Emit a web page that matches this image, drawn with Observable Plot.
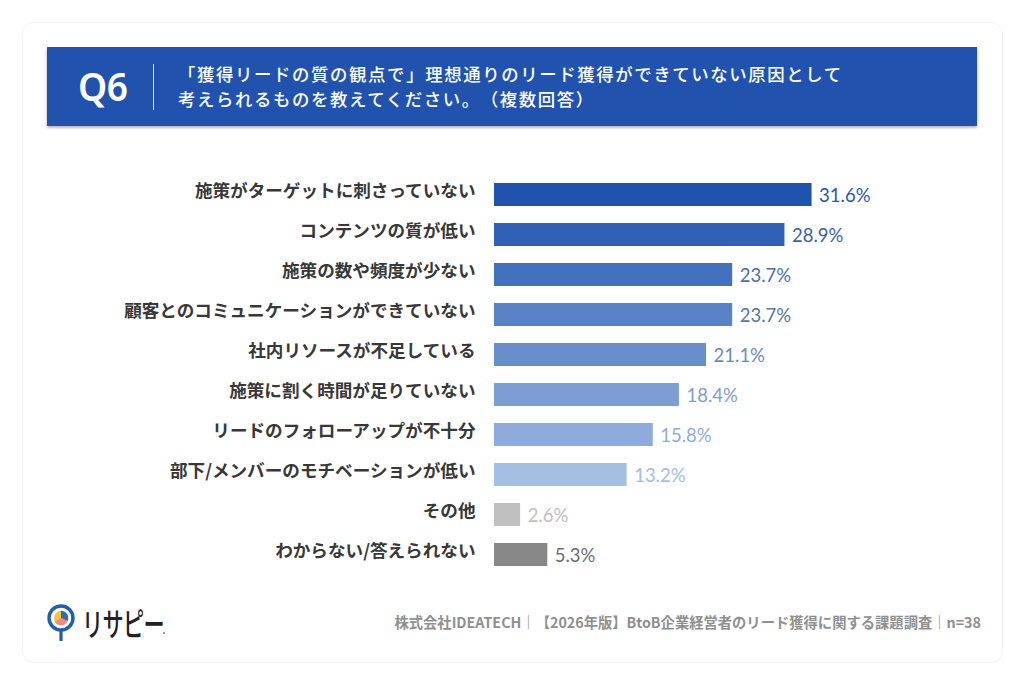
<!DOCTYPE html>
<html lang="ja"><head><meta charset="utf-8">
<script src="https://cdn.jsdelivr.net/npm/d3@7"></script>
<script src="https://cdn.jsdelivr.net/npm/@observablehq/plot@0.6"></script>
<style>
html,body{margin:0;padding:0;background:#fff;width:1024px;height:683px;overflow:hidden}
#page{position:relative;width:1024px;height:683px;font-family:"Noto Sans CJK JP",sans-serif;text-spacing-trim:space-all}
#card{position:absolute;left:22px;top:22px;width:979px;height:639px;border:1px solid #f3f3f3;border-radius:12px;box-sizing:content-box}
#head{position:absolute;left:47px;top:47px;width:930px;height:79px;background:#2153ae;box-shadow:0 1.5px 3px rgba(0,0,0,.35)}
#q{position:absolute;left:31px;top:14px;color:#fff;font:600 39px/50px "Noto Sans",sans-serif;letter-spacing:-.5px;transform:scaleX(.95);transform-origin:left center}
#bar{position:absolute;left:106px;top:17px;width:1px;height:46px;background:#dfe7f5}
#ttl{position:absolute;left:131px;top:15px;color:#fff;font:500 17.4px/24.5px "Noto Sans CJK JP",sans-serif;letter-spacing:1.62px;white-space:pre}
#chart{position:absolute;left:0;top:0}
#foot{position:absolute;right:43px;top:612px;color:#8f8f8f;font:700 14.3px/20px "Noto Sans CJK JP",sans-serif;white-space:pre}
#logo{position:absolute;left:46px;top:604px}
#logot{position:absolute;left:82px;top:601px;color:#222;font:500 32px/42px "Noto Sans CJK JP",sans-serif;letter-spacing:-1px;white-space:pre;transform:scaleX(.66);transform-origin:left center}
#dot{position:absolute;left:163px;top:632px;width:2px;height:2px;border-radius:50%;background:#777}
</style></head><body>
<div id="page">
<div id="card"></div>
<div id="head"><div id="q"></div><div id="bar"></div><div id="ttl"></div></div>
<div id="chart"></div>
<svg id="logo" width="30" height="38" viewBox="0 0 30 38">
<path d="M15 24V37" stroke="#1f5fae" stroke-width="3.2" fill="none"/>
<circle cx="15" cy="14" r="12" fill="#fff" stroke="#1f5fae" stroke-width="3.4"/>
<circle cx="15" cy="14" r="7.2" fill="#f4c542"/>
<path d="M15 14V6.8A7.2 7.2 0 0 1 21.6 17Z" fill="#2e6db5"/>
<path d="M15 14L21.6 17A7.2 7.2 0 0 1 8.8 17.7Z" fill="#ee8a80"/>
</svg>
<div id="logot"></div><div id="dot"></div>
<div id="foot"></div>
</div>
<script>
const categories = ["施策がターゲットに刺さっていない","コンテンツの質が低い","施策の数や頻度が少ない","顧客とのコミュニケーションができていない","社内リソースが不足している","施策に割く時間が足りていない","リードのフォローアップが不十分","部下/メンバーのモチベーションが低い","その他","わからない/答えられない"];
const values = [31.6,28.9,23.7,23.7,21.1,18.4,15.8,13.2,2.6,5.3];
const barColors = ["#2053ae","#3160b6","#4471be","#5a81c6","#6a8dcb","#7d9dd4","#8fabdc","#a5bfe3","#c0c0c0","#888888"];
const labelColors = ["#2c579f","#3d5f9f","#4d6fa8","#56779f","#6c8ab8","#7f9ccd","#90abd8","#a3bde0","#c0c0c0","#6e6e6e"];
const questionNo = "Q6";
const titleText = "「獲得リードの質の観点で」理想通りのリード獲得ができていない原因として\n考えられるものを教えてください。（複数回答）";
const footerText = "株式会社IDEATECH｜【2026年版】BtoB企業経営者のリード獲得に関する課題調査｜n=38";
const brand = "リサピー";

document.getElementById("q").textContent = questionNo;
document.getElementById("ttl").textContent = titleText;
document.getElementById("foot").textContent = footerText;
document.getElementById("logot").textContent = brand;

const rows = categories.map((c,i)=>({c,v:values[i],col:barColors[i],lab:labelColors[i]}));
const chart = Plot.plot({
  width:1024, height:683,
  marginLeft:494, marginRight:27.5, marginTop:165, marginBottom:100,
  style:{background:"transparent"},
  x:{domain:[0,50],axis:null},
  y:{domain:categories,padding:0.43,label:null},
  marks:[
    Plot.axisY({anchor:"left",tickSize:0,tickPadding:19,label:null,fontSize:17.6,fontWeight:700,dy:-3.5,
      fill:"#383838",fontFamily:"'Noto Sans CJK JP',sans-serif",lineWidth:40,textOverflow:null,
      style:{fontFeatureSettings:"'palt'"}}),
    Plot.barX(rows,{x:"v",y:"c",fill:"col"}),
    Plot.text(rows,{x:"v",y:"c",text:d=>d.v.toFixed(1)+"%",fill:"lab",textAnchor:"start",dx:7,dy:1,
      fontSize:18.5,fontFamily:"Lato, sans-serif"})
  ]
});
document.getElementById("chart").appendChild(chart);
</script>
</body></html>
